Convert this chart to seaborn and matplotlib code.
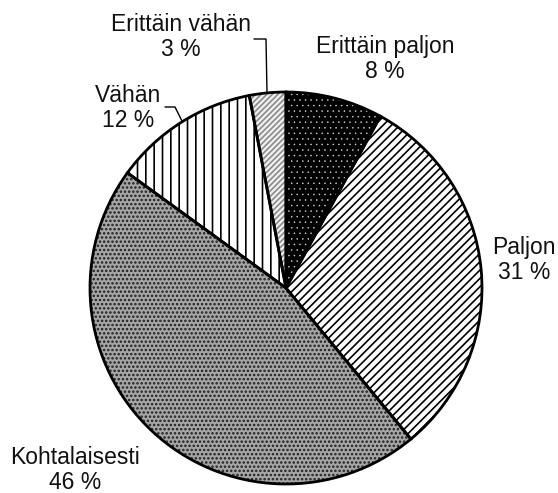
import matplotlib
matplotlib.use('Agg')

import matplotlib.pyplot as plt
import seaborn as sns


# =========================================================
# DATA
# =========================================================

categories = ['Erittäin paljon', 'Paljon', 'Kohtalaisesti', 'Vähän', 'Erittäin vähän']
shares = [8, 31, 46, 12, 3]

# =========================================================
# STYLE
# =========================================================

sns.set_theme(style='white')
plt.rcParams['font.family'] = ['Liberation Sans', 'DejaVu Sans']
plt.rcParams['hatch.linewidth'] = 1.2

W, H = 558, 493


def flip(y):
    return H - y


face_colors = ['black', 'white', '#a6a6a6', 'white', '#f0f0f0']
hatch_colors = ['#dddddd', 'black', '#1e1e1e', 'black', '#8a8a8a']
hatches = ['...', '////', '....', '||', '//////']
hatch_widths = [0.3, 1.2, 1.2, 1.2, 1.2]

label_pos = {
    'Erittäin paljon': (385, 59),
    'Paljon': (524, 260),
    'Kohtalaisesti': (75, 470),
    'Vähän': (128, 108),
    'Erittäin vähän': (181, 37),
}

# =========================================================
# PLOT
# =========================================================

fig = plt.figure(figsize=(W / 100, H / 100), dpi=100)
ax = fig.add_axes([0, 0, 1, 1])

center = (286, flip(288))
radius = 196

wedges, _ = ax.pie(
    shares,
    startangle=90,
    counterclock=False,
    center=center,
    radius=radius,
    wedgeprops=dict(linewidth=0),
)

for wedge, fc, hc, ht, hw in zip(wedges, face_colors, hatch_colors, hatches, hatch_widths):
    wedge.set_facecolor(fc)
    wedge.set_edgecolor(hc)
    wedge.set_hatch(ht)
    wedge.set_linewidth(0)
    if hasattr(wedge, 'set_hatch_linewidth'):
        wedge.set_hatch_linewidth(hw)
    else:
        wedge._hatch_linewidth = hw

# outlines on top
ax.pie(
    shares,
    startangle=90,
    counterclock=False,
    center=center,
    radius=radius,
    wedgeprops=dict(fill=False, edgecolor='black', linewidth=2),
)

for name, value in zip(categories, shares):
    x, y = label_pos[name]
    ax.text(
        x, flip(y), f'{name}\n{value} %',
        ha='center', va='center', multialignment='center',
        fontsize=16.5, color='#111111', linespacing=1.1,
    )

# leader lines
ax.plot([254, 266, 267], [flip(39), flip(39), flip(93)], color='black', lw=1)
ax.plot([165, 175, 182], [flip(107), flip(107), flip(121)], color='black', lw=1)

ax.set_xlim(0, W)
ax.set_ylim(0, H)
ax.set_aspect('auto')
ax.axis('off')

fig.savefig('out.png', dpi=100)
